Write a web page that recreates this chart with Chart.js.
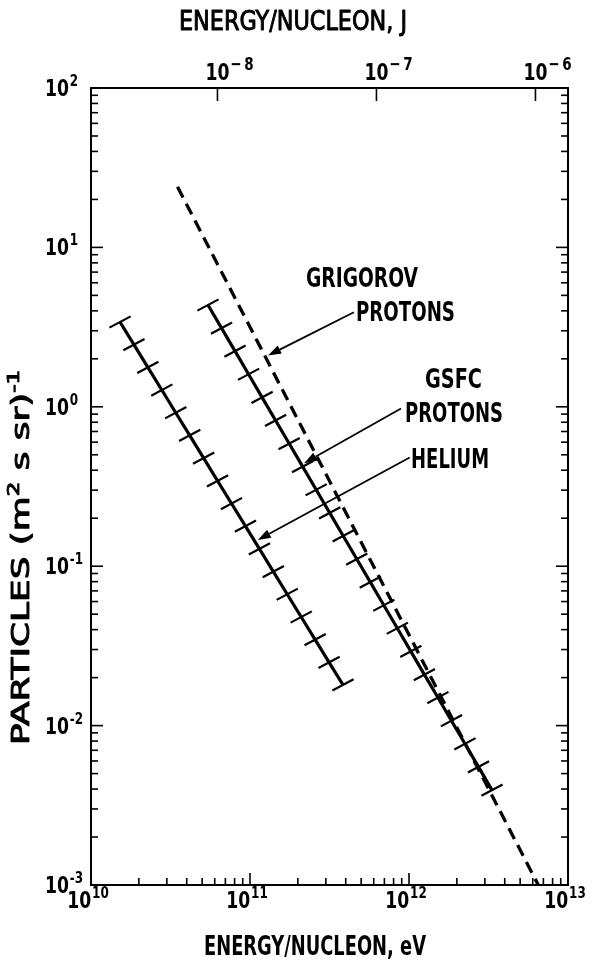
<!DOCTYPE html>
<html><head><meta charset="utf-8">
<script src="https://cdn.jsdelivr.net/npm/chart.js@4.4.1/dist/chart.umd.min.js"></script>
<style>html,body{margin:0;padding:0;background:#fff;}canvas{display:block;}</style>
</head><body>
<canvas id="c" width="596" height="965"></canvas>
<script>
// ---------------- data ----------------
const heliumEnergy = [1.522e10, 1.862e10, 2.279e10, 2.789e10, 3.412e10, 4.175e10, 5.109e10, 6.252e10, 7.650e10, 9.361e10, 1.146e11, 1.402e11, 1.715e11, 2.099e11, 2.568e11, 3.143e11, 3.845e11];
const heliumFlux   = [3.404, 2.453, 1.767, 1.274, 0.918, 0.661, 0.4764, 0.3433, 0.2473, 0.1782, 0.1284, 0.0925, 0.0667, 0.0480, 0.0346, 0.0249, 0.0180];

const gsfcEnergy = [5.443e10, 6.622e10, 8.052e10, 9.795e10, 1.191e11, 1.449e11, 1.763e11, 2.144e11, 2.608e11, 3.172e11, 3.858e11, 4.693e11, 5.708e11, 6.943e11, 8.446e11, 1.027e12, 1.250e12, 1.520e12, 1.849e12, 2.249e12, 2.735e12, 3.327e12];
const gsfcFlux   = [4.352, 3.118, 2.234, 1.600, 1.146, 0.821, 0.588, 0.4212, 0.3017, 0.2162, 0.1548, 0.1109, 0.0794, 0.0569, 0.0408, 0.0292, 0.0209, 0.0150, 0.01073, 0.00769, 0.00551, 0.00394];

const grigorovEnergy = [3.5e10, 6.5e12];
const grigorovFlux   = [24, 1e-3];

const energyTicksEV = [1e10, 1e11, 1e12, 1e13];
const energyTickExpEV = ['10', '11', '12', '13'];
const energyTicksJ = [1e-8, 1e-7, 1e-6];
const energyTickExpJ = ['\u2212\u20098', '\u2212\u20097', '\u2212\u20096'];
const fluxTicks = [1e2, 1e1, 1e0, 1e-1, 1e-2, 1e-3];
const fluxTickExp = ['2', '1', '0', '-1', '-2', '-3'];

const EV_TO_J = 1.602e-19;

// labels and arrows (anchored in data coordinates: energy eV, flux)
const labelTexts  = ['GRIGOROV', 'PROTONS', 'GSFC', 'PROTONS', 'HELIUM'];
const labelEnergy = [2.25e11, 4.64e11, 1.26e12, 9.44e11, 1.03e12];
const labelFlux   = [5.62, 3.44, 1.32, 0.798, 0.416];

const arrowFromEnergy = [4.50e11, 8.91e11, 1.01e12];
const arrowFromFlux   = [3.92, 0.977, 0.481];
const arrowToEnergy   = [1.30e11, 2.19e11, 1.12e11];
const arrowToFlux     = [2.10, 0.443, 0.146];

// ---------------- styling ----------------
const FAMILY = '"DejaVu Sans Condensed", "Liberation Sans Narrow", "DejaVu Sans", sans-serif';
const labelWidths = [112, 99, 57, 98, 78];
function setFont(ctx, size, weight) { ctx.font = (weight || 'bold') + ' ' + size + 'px ' + FAMILY; }

// weight 'medium' = normal face with a thin outline stroke
function drawRich(ctx, segs, x, y, align, width, angle, weight) {
  ctx.save();
  const face = weight === 'medium' ? 'normal' : weight;
  let total = 0;
  const ws = segs.map(s => { setFont(ctx, s.size, face); const w = ctx.measureText(s.t).width; total += w; return w; });
  const sx = width ? width / total : 1;
  ctx.translate(x, y);
  if (angle) ctx.rotate(angle);
  ctx.scale(sx, 1);
  let cx = align === 'center' ? -total / 2 : (align === 'right' ? -total : 0);
  ctx.textBaseline = 'alphabetic';
  ctx.textAlign = 'left';
  ctx.lineWidth = 0.9;
  ctx.lineJoin = 'round';
  segs.forEach((s, i) => {
    setFont(ctx, s.size, face);
    ctx.fillText(s.t, cx, -(s.rise || 0));
    if (weight === 'medium') ctx.strokeText(s.t, cx, -(s.rise || 0));
    cx += ws[i];
  });
  ctx.restore();
}

// mode: 'right' = base right edge at x; 'center' = base centred at x; 'whole' = whole label centred at x
function drawPower(ctx, exp, x, y, mode, supSize) {
  ctx.save();
  setFont(ctx, 23);
  const bw = ctx.measureText('10').width;
  setFont(ctx, supSize);
  const ew = ctx.measureText(exp).width;
  const sx = 24 / bw;
  ctx.translate(x, y);
  ctx.scale(sx, 1);
  let bx;
  if (mode === 'center') bx = -bw / 2;
  else if (mode === 'whole') bx = -(bw + 1 + ew) / 2;
  else bx = -bw;
  ctx.textBaseline = 'alphabetic';
  ctx.textAlign = 'left';
  setFont(ctx, 23);
  ctx.fillText('10', bx, 0);
  setFont(ctx, supSize);
  ctx.fillText(exp, bx + bw + 1, -10);
  ctx.restore();
}

const decorPlugin = {
  id: 'decor',
  afterDraw(chart) {
    const ctx = chart.ctx;
    const a = chart.chartArea;
    const sx = chart.scales.x, sy = chart.scales.y, sj = chart.scales.x2;
    ctx.save();
    ctx.strokeStyle = '#000';
    ctx.fillStyle = '#000';
    ctx.lineWidth = 2;
    ctx.strokeRect(a.left, a.top, a.right - a.left, a.bottom - a.top);
    ctx.lineWidth = 1.6;
    const line = (x1, y1, x2, y2) => { ctx.beginPath(); ctx.moveTo(x1, y1); ctx.lineTo(x2, y2); ctx.stroke(); };
    for (let e = -3; e < 2; e++) {
      for (let m = 1; m < 10; m++) {
        const py = sy.getPixelForValue(m * Math.pow(10, e));
        const len = m === 1 ? 12 : 7;
        line(a.left, py, a.left + len, py);
        line(a.right, py, a.right - len, py);
      }
    }
    for (let e = 10; e < 13; e++) {
      for (let m = 1; m < 10; m++) {
        const px = sx.getPixelForValue(m * Math.pow(10, e));
        const len = m === 1 ? 12 : 7;
        line(px, a.bottom, px, a.bottom - len);
      }
    }
    energyTicksJ.forEach(v => {
      const px = sj.getPixelForValue(v);
      line(px, a.top, px, a.top + 13);
    });
    fluxTicks.forEach((v, i) => drawPower(ctx, fluxTickExp[i], a.left - 22, sy.getPixelForValue(v) + 8, 'right', 16));
    energyTicksEV.forEach((v, i) => drawPower(ctx, energyTickExpEV[i], sx.getPixelForValue(v) - 3, a.bottom + 23, 'whole', 16));
    energyTicksJ.forEach((v, i) => drawPower(ctx, energyTickExpJ[i], sj.getPixelForValue(v), a.top - 8, 'center', 18));
    drawRich(ctx, [{ t: 'ENERGY/NUCLEON, J', size: 26 }], 293, 30, 'center', 228, 0, 'medium');
    drawRich(ctx, [{ t: 'ENERGY/NUCLEON, eV', size: 26 }], 315, 955, 'center', 222);
    drawRich(ctx, [
      { t: 'PARTICLES (m', size: 25 },
      { t: '2', size: 16, rise: 10 },
      { t: ' s sr)', size: 25 },
      { t: '-1', size: 16, rise: 10 }
    ], 29, 745, 'left', 375, -Math.PI / 2, 'medium');
    labelTexts.forEach((t, i) => {
      drawRich(ctx, [{ t: t, size: 27 }], sx.getPixelForValue(labelEnergy[i]), sy.getPixelForValue(labelFlux[i]), 'left', labelWidths[i]);
    });
    ctx.lineWidth = 1.8;
    arrowFromEnergy.forEach((_, i) => {
      const x1 = sx.getPixelForValue(arrowFromEnergy[i]), y1 = sy.getPixelForValue(arrowFromFlux[i]);
      const x2 = sx.getPixelForValue(arrowToEnergy[i]), y2 = sy.getPixelForValue(arrowToFlux[i]);
      const ang = Math.atan2(y2 - y1, x2 - x1);
      const L = 13, W = 4.5;
      const bxp = x2 - L * Math.cos(ang), byp = y2 - L * Math.sin(ang);
      line(x1, y1, bxp, byp);
      ctx.beginPath();
      ctx.moveTo(x2, y2);
      ctx.lineTo(bxp + W * Math.sin(ang), byp - W * Math.cos(ang));
      ctx.lineTo(bxp - W * Math.sin(ang), byp + W * Math.cos(ang));
      ctx.closePath();
      ctx.fill();
    });
    ctx.restore();
  }
};

const toPts = (xs, ys) => xs.map((x, i) => ({ x: x, y: ys[i] }));
const tickSeries = {
  showLine: true, borderColor: '#000', borderWidth: 3.2, tension: 0,
  pointStyle: 'line', pointRadius: 12, pointHoverRadius: 12, pointRotation: -28,
  pointBorderColor: '#000', pointBorderWidth: 2.2, pointBackgroundColor: '#000'
};
const hidden = { display: false };
function fixSize(prop, val) { return s => { s[prop] = val; }; }

new Chart(document.getElementById('c'), {
  type: 'scatter',
  data: {
    datasets: [
      Object.assign({ label: 'Helium', data: toPts(heliumEnergy, heliumFlux) }, tickSeries),
      Object.assign({ label: 'GSFC protons', data: toPts(gsfcEnergy, gsfcFlux) }, tickSeries),
      { label: 'Grigorov protons', data: toPts(grigorovEnergy, grigorovFlux), showLine: true,
        borderColor: '#000', borderWidth: 3.3, borderDash: [12, 7], pointRadius: 0, pointHoverRadius: 0 }
    ]
  },
  options: {
    responsive: false,
    animation: false,
    devicePixelRatio: 1,
    layout: { padding: 0 },
    plugins: { legend: hidden, tooltip: { enabled: false }, title: hidden },
    scales: {
      x: { type: 'logarithmic', position: 'bottom', min: 1e10, max: 1e13,
           ticks: hidden, grid: hidden, border: hidden, afterFit: fixSize('height', 80) },
      x2: { type: 'logarithmic', position: 'top', min: 1e10 * EV_TO_J, max: 1e13 * EV_TO_J,
            ticks: hidden, grid: hidden, border: hidden, afterFit: fixSize('height', 88) },
      y: { type: 'logarithmic', position: 'left', min: 1e-3, max: 1e2,
           ticks: hidden, grid: hidden, border: hidden, afterFit: fixSize('width', 91) },
      y2: { type: 'logarithmic', position: 'right', min: 1e-3, max: 1e2,
            ticks: hidden, grid: hidden, border: hidden, afterFit: fixSize('width', 28) }
    }
  },
  plugins: [decorPlugin]
});
</script>
</body></html>
